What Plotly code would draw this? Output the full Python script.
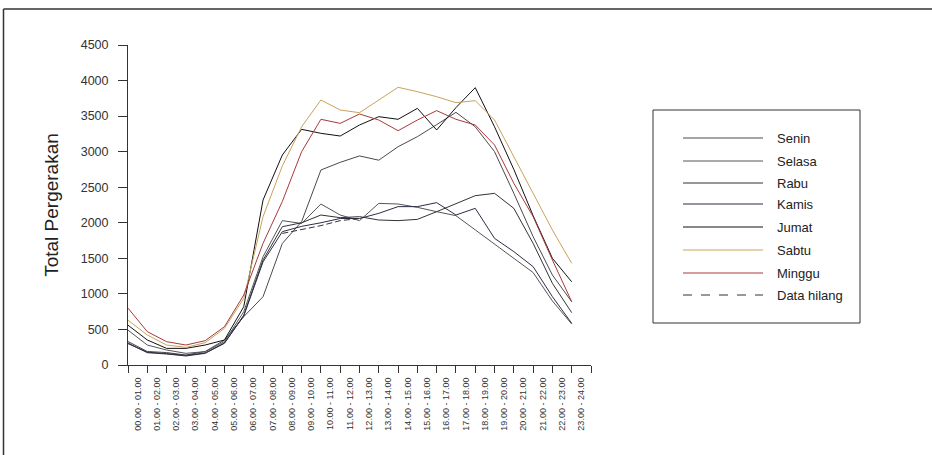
import plotly.graph_objects as go

hours = ["00.00 - 01.00", "01.00 - 02.00", "02.00 - 03.00", "03.00 - 04.00",
         "04.00 - 05.00", "05.00 - 06.00", "06.00 - 07.00", "07.00 - 08.00",
         "08.00 - 09.00", "09.00 - 10.00", "10.00 - 11.00", "11.00 - 12.00",
         "12.00 - 13.00", "13.00 - 14.00", "14.00 - 15.00", "15.00 - 16.00",
         "16.00 - 17.00", "17.00 - 18.00", "18.00 - 19.00", "19.00 - 20.00",
         "20.00 - 21.00", "21.00 - 22.00", "22.00 - 23.00", "23.00 - 24.00"]

senin = [330, 190, 175, 140, 190, 350, 680, 960, 1710, 2016, 2742, 2850, 2940, 2880,
         3070, 3211, 3380, 3553, 3350, 3000, 2414, 1805, 1265, 890]
selasa = [490, 281, 211, 164, 188, 328, 750, 1523, 2030, 1990, 2264, 2109, 2030, 2273,
          2264, 2217, 2156, 2100, 1900, 1700, 1500, 1300, 900, 577]
rabu = [310, 173, 155, 127, 164, 305, 700, 1477, 1945, 2000, 2109, 2072, 2086, 2039,
        2030, 2048, 2156, 2273, 2381, 2414, 2203, 1711, 1148, 736]
kamis = [300, 180, 160, 135, 170, 310, 690, 1450, 1875, 1950, 2000, 2060, 2060, 2133,
         2227, 2227, 2283, 2109, 2203, 1781, 1594, 1383, 961, 586]
jumat = [560, 352, 234, 234, 281, 352, 820, 2320, 2953, 3314, 3258, 3220, 3375, 3492,
         3455, 3609, 3305, 3620, 3900, 3350, 2750, 2100, 1500, 1170]
sabtu = [630, 422, 281, 248, 314, 516, 937, 2086, 2800, 3350, 3727, 3586, 3548, 3727,
         3905, 3844, 3773, 3689, 3717, 3445, 2930, 2414, 1898, 1430]
minggu = [800, 469, 328, 281, 342, 539, 984, 1711, 2300, 3000, 3455, 3398, 3530, 3445,
          3295, 3445, 3577, 3455, 3375, 3094, 2555, 2086, 1477, 890]
data_hilang = [None] * 8 + [1850, 1900, 1960, 2030, 2060] + [None] * 11

names = ["Senin", "Selasa", "Rabu", "Kamis", "Jumat", "Sabtu", "Minggu", "Data hilang"]
series = [senin, selasa, rabu, kamis, jumat, sabtu, minggu, data_hilang]
colors = ["#4a4a4a", "#555555", "#333333", "#2b2d45", "#111111", "#c9a25a", "#a83a3a", "#333333"]
dashes = ["solid"] * 7 + ["6px,3px"]

y_ticks = [0, 500, 1000, 1500, 2000, 2500, 3000, 3500, 4000, 4500]

# layout geometry (pixels)
W, H = 932, 455
L, R, T, B = 128, 591, 45, 365

def px(x):
    return (x - L) / (R - L)

def py(y):
    return (B - y) / (B - T)

fig = go.Figure()
xs = list(range(len(hours)))
for name, vals, col, dsh in zip(names, series, colors, dashes):
    fig.add_trace(go.Scatter(x=xs, y=vals, mode="lines", name=name,
                             line=dict(color=col, width=1, dash=dsh),
                             connectgaps=False, showlegend=False, hoverinfo="skip"))

font = "Liberation Sans, Arial, sans-serif"

fig.update_layout(
    width=W, height=H,
    margin=dict(l=L, r=W - R, t=T, b=H - B, pad=0),
    paper_bgcolor="white", plot_bgcolor="white",
    font=dict(family=font, color="#222222"),
    xaxis=dict(range=[0, len(hours)], tickmode="array",
               tickvals=[i + 0.5 for i in xs], ticktext=hours,
               tickangle=-90, tickfont=dict(size=9, color="#333333"),
               ticks="outside", ticklen=8, tickcolor="rgba(0,0,0,0)",
               minor=dict(tickmode="array", tickvals=list(range(len(hours) + 1)),
                          ticks="outside", ticklen=7, tickcolor="#333333", tickwidth=1,
                          showgrid=False),
               showline=True, linecolor="#333333", linewidth=1,
               showgrid=False, zeroline=False, fixedrange=True),
    yaxis=dict(range=[0, 4500], tickmode="array", tickvals=y_ticks,
               ticktext=[str(v) for v in y_ticks],
               tickfont=dict(size=12.5, color="#333333"),
               ticks="outside", ticklen=9, tickcolor="#333333", ticklabelstandoff=7,
               showline=True, linecolor="#333333", linewidth=1,
               showgrid=False, zeroline=False, fixedrange=True,
               title=dict(text="Total Pergerakan", font=dict(size=19, color="#222222"),
                          standoff=17)),
)

shapes = []
# outer frame (top and left edges visible)
shapes.append(dict(type="line", xref="paper", yref="paper",
                   x0=px(3.5), x1=px(W + 5), y0=py(9), y1=py(9),
                   line=dict(color="#333333", width=1.5)))
shapes.append(dict(type="line", xref="paper", yref="paper",
                   x0=px(3.5), x1=px(3.5), y0=py(9), y1=py(H + 5),
                   line=dict(color="#333333", width=1.5)))
# legend box
shapes.append(dict(type="rect", xref="paper", yref="paper",
                   x0=px(653), x1=px(860), y0=py(323), y1=py(110),
                   line=dict(color="#333333", width=1), fillcolor="white"))
annotations = []
leg_y = [138, 161, 183, 204, 227, 250, 273, 295]
for name, col, dsh, yy in zip(names, colors, dashes, leg_y):
    shapes.append(dict(type="line", xref="paper", yref="paper",
                       x0=px(683), x1=px(763), y0=py(yy), y1=py(yy),
                       line=dict(color=col, width=1, dash="dash" if dsh != "solid" else "solid")))
    annotations.append(dict(xref="paper", yref="paper", x=px(775), y=py(yy),
                            text=name, showarrow=False, xanchor="left", yanchor="middle",
                            font=dict(size=13, color="#222222", family=font)))

fig.update_layout(shapes=shapes, annotations=annotations)

fig.write_html("out.html", config={"displayModeBar": False, "staticPlot": True},
               post_script="document.body.style.margin='0';document.body.style.overflow='hidden';")
